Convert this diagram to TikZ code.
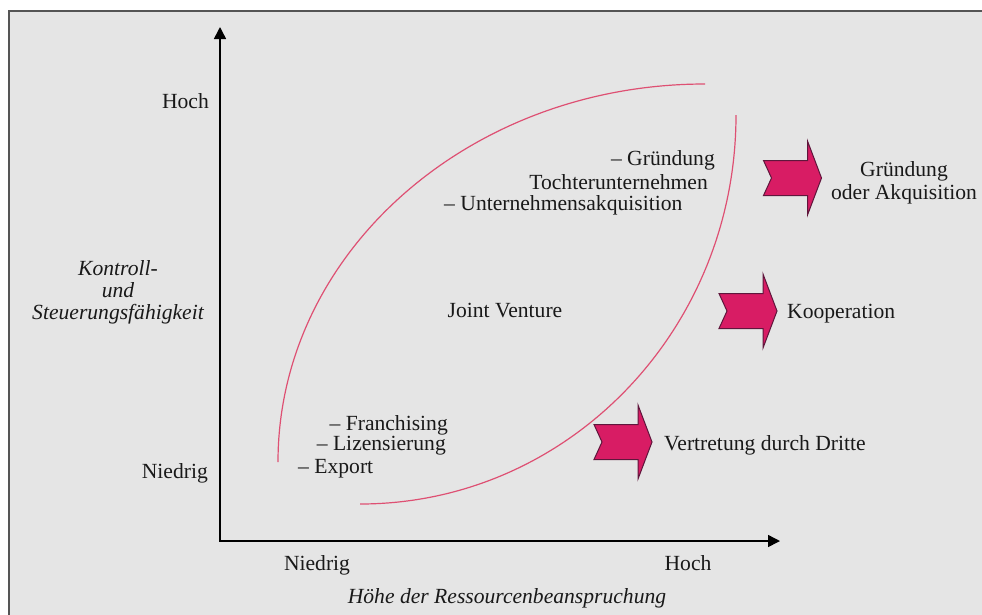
\documentclass[tikz,border=0pt]{standalone}
\usepackage{fontspec}
\setmainfont{Liberation Serif}
\usetikzlibrary{arrows.meta}
\definecolor{bg}{RGB}{229,229,229}
\definecolor{framec}{RGB}{85,85,85}
\definecolor{curvec}{RGB}{222,80,115}
\definecolor{chevfill}{RGB}{216,28,100}
\definecolor{chevline}{RGB}{95,22,60}
\definecolor{txt}{RGB}{25,25,25}
\begin{document}
\begin{tikzpicture}[x=1pt,y=-1pt,
  lbl/.style={font=\fontsize{21.6}{23}\selectfont, text=txt, inner sep=0pt},
  ilbl/.style={lbl, font=\fontsize{21.6}{22}\selectfont\itshape},
  axisline/.style={line width=1.5pt, draw=black, {Triangle[length=12pt,width=12pt]}-{Triangle[length=12pt,width=12pt]}},
  curveline/.style={draw=curvec, line width=1.2pt},
  chevshape/.style={fill=chevfill, draw=chevline, line width=1pt, line join=miter},
  chev/.pic={\path[chevshape] (-29,-17.5) -- (15,-17.5) -- (15,-37) -- (29,0) -- (15,37) -- (15,17.5) -- (-29,17.5) -- (-21,0) -- cycle;}
]
\useasboundingbox (0,0) rectangle (982,614);
\clip (0,0) rectangle (982,614);
\fill[white] (0,0) rectangle (982,614);
\draw[draw=framec, line width=1.5pt, fill=bg] (9,11) rectangle (1000,640);

% axes
\coordinate (ytip) at (220,27);
\coordinate (origin) at (220,541);
\coordinate (xtip) at (780,541);
\draw[axisline] (ytip) -- (origin) -- (xtip);

% curves
\coordinate (lA) at (278,462);
\coordinate (lB) at (705,84);
\draw[curveline] (lA) .. controls (278,253) and (469,84) .. (lB);
\coordinate (rA) at (736,115);
\coordinate (rB) at (360,504);
\draw[curveline] (rA) .. controls (736,330) and (568,504) .. (rB);

% axis labels
\node[lbl, anchor=mid east] (hochY) at (209,106) {Hoch};
\node[lbl, anchor=mid east] (niedrigY) at (208,476) {Niedrig};
\node[ilbl, align=center] (ylab) at (118,292) {Kontroll-\\und\\Steuerungsfähigkeit};
\node[lbl, anchor=mid] (niedrigX) at (317,568) {Niedrig};
\node[lbl, anchor=mid] (hochX) at (688,568) {Hoch};
\node[ilbl, anchor=mid] (xlab) at (507,601) {Höhe der Ressourcenbeanspruchung};

% inner texts
\node[lbl, anchor=mid east] (gr1) at (715,163) {– Gründung};
\node[lbl, anchor=mid east] (gr2) at (708,187) {Tochterunternehmen};
\node[lbl, anchor=mid west] (gr3) at (444,208) {– Unternehmensakquisition};
\node[lbl, anchor=mid] (jv) at (505,315) {Joint Venture};
\node[lbl, anchor=mid east] (fr) at (448,428) {– Franchising};
\node[lbl, anchor=mid east] (li) at (446,448) {– Lizensierung};
\node[lbl, anchor=mid west] (ex) at (298,471) {– Export};

% chevrons and outcomes
\pic at (792.5,178) {chev};
\pic at (748,311) {chev};
\pic at (623,442) {chev};
\node[lbl, align=center] (out1) at (904,183) {Gründung\\oder Akquisition};
\node[lbl, anchor=mid west] (out2) at (787,316) {Kooperation};
\node[lbl, anchor=mid west] (out3) at (664,448) {Vertretung durch Dritte};
\end{tikzpicture}
\end{document}
